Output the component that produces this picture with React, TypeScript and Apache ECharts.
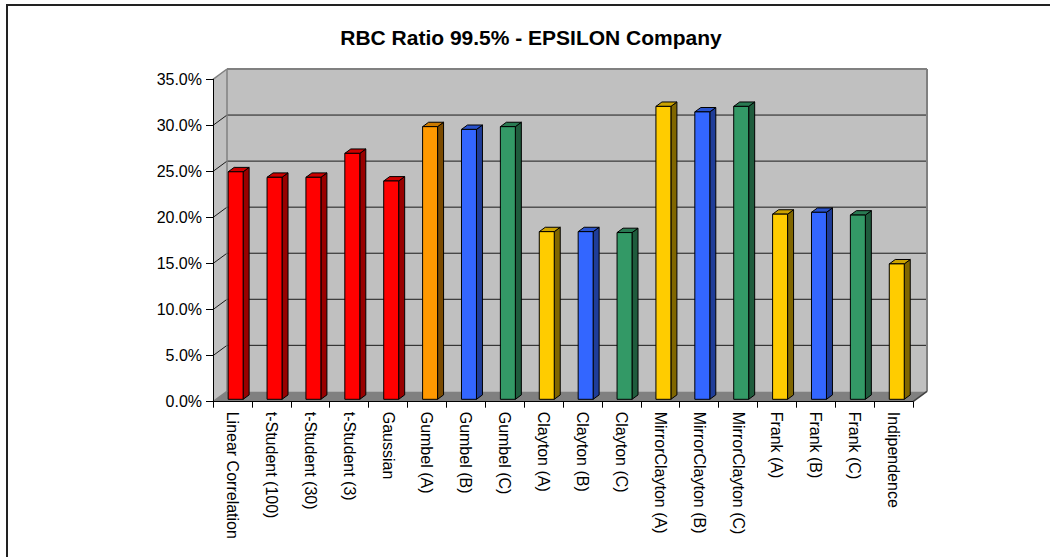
import React, { useEffect, useRef } from "react";
import * as echarts from "echarts";

// Copula models compared for the EPSILON company
const categories = [
  "Linear Correlation",
  "t-Student (100)",
  "t-Student (30)",
  "t-Student (3)",
  "Gaussian",
  "Gumbel (A)",
  "Gumbel (B)",
  "Gumbel (C)",
  "Clayton (A)",
  "Clayton (B)",
  "Clayton (C)",
  "MirrorClayton (A)",
  "MirrorClayton (B)",
  "MirrorClayton (C)",
  "Frank (A)",
  "Frank (B)",
  "Frank (C)",
  "Indipendence",
];

// RBC ratio at the 99.5% level, one value per model
const rbcRatio = [
  0.247, 0.241, 0.241, 0.267, 0.237, 0.296, 0.293, 0.296, 0.182, 0.182, 0.181,
  0.318, 0.312, 0.318, 0.201, 0.203, 0.2, 0.147,
];

// colour family of each bar
const barFamily = [
  "red", "red", "red", "red", "red", "orange", "blue", "green", "yellow",
  "blue", "green", "yellow", "blue", "green", "yellow", "blue", "green", "yellow",
];

const yTicks = [0, 0.05, 0.1, 0.15, 0.2, 0.25, 0.3, 0.35];

const palette: Record<string, { front: string; side: string; top: string }> = {
  red: { front: "#FF0000", side: "#990000", top: "#CC0000" },
  orange: { front: "#FF9900", side: "#7A4A00", top: "#CC7A00" },
  blue: { front: "#3366FF", side: "#1F3D99", top: "#2952CC" },
  green: { front: "#339966", side: "#1F5C3D", top: "#297A52" },
  yellow: { front: "#FFCC00", side: "#806600", top: "#CCA300" },
};

const FONT = "'Liberation Sans', Arial, Helvetica, sans-serif";

// depth of the plot box (front plane -> back wall)
const WALL_DX = 14;
const WALL_DY = -10.3;
// position of the bar front plane and depth of each bar
const BAR_OFF_DX = 3.2;
const BAR_OFF_DY = -2.4;
const BAR_DX = 6;
const BAR_DY = -4.4;

export default function App() {
  const ref = useRef<HTMLDivElement>(null);

  useEffect(() => {
    if (!ref.current) return;
    const chart = echarts.init(ref.current, null, { renderer: "svg" });
    const yMax = yTicks[yTicks.length - 1];
    const n = categories.length;

    const wallsRender = (_params: any, api: any) => {
      const band = api.size([1, 0])[0];
      const x0 = api.coord([0, 0])[0] - band / 2;
      const x1 = api.coord([n - 1, 0])[0] + band / 2;
      const yb = api.coord([0, 0])[1];
      const yt = api.coord([0, yMax])[1];
      const children: any[] = [];
      // back wall
      children.push({
        type: "rect",
        shape: { x: x0 + WALL_DX, y: yt + WALL_DY, width: x1 - x0, height: yb - yt },
        style: { fill: "#C0C0C0" },
      });
      // side wall
      children.push({
        type: "polygon",
        shape: {
          points: [
            [x0, yt],
            [x0 + WALL_DX, yt + WALL_DY],
            [x0 + WALL_DX, yb + WALL_DY],
            [x0, yb],
          ],
        },
        style: { fill: "#C0C0C0" },
      });
      // floor
      children.push({
        type: "polygon",
        shape: {
          points: [
            [x0, yb],
            [x0 + WALL_DX, yb + WALL_DY],
            [x1 + WALL_DX, yb + WALL_DY],
            [x1, yb],
          ],
        },
        style: { fill: "#808080" },
      });
      // gridlines on back and side walls
      yTicks.forEach((t) => {
        const y = api.coord([0, t])[1];
        const edge = t === 0 || t === yMax;
        if (t !== 0) {
          children.push({
            type: "line",
            shape: { x1: x0 + WALL_DX, y1: y + WALL_DY, x2: x1 + WALL_DX, y2: y + WALL_DY },
            style: { stroke: edge ? "#808080" : "#1A1A1A", lineWidth: edge ? 2 : 1 },
          });
        }
        children.push({
          type: "line",
          shape: { x1: x0, y1: y, x2: x0 + WALL_DX, y2: y + WALL_DY },
          style: { stroke: edge ? "#808080" : "#1A1A1A", lineWidth: edge ? 1.5 : 1 },
        });
      });
      // box edges
      children.push({
        type: "line",
        shape: { x1: x0 + WALL_DX, y1: yt + WALL_DY, x2: x0 + WALL_DX, y2: yb + WALL_DY },
        style: { stroke: "#808080", lineWidth: 1.5 },
      });
      children.push({
        type: "line",
        shape: { x1: x1 + WALL_DX, y1: yt + WALL_DY, x2: x1 + WALL_DX, y2: yb + WALL_DY },
        style: { stroke: "#808080", lineWidth: 2 },
      });
      children.push({
        type: "line",
        shape: { x1: x1, y1: yb, x2: x1 + WALL_DX, y2: yb + WALL_DY },
        style: { stroke: "#404040", lineWidth: 1.5 },
      });
      return { type: "group", children };
    };

    const barsRender = (params: any, api: any) => {
      const idx = api.value(0);
      const v = api.value(1);
      const base = api.coord([idx, 0]);
      const top = api.coord([idx, v]);
      const band = api.size([1, 0])[0];
      const w = band * 0.385;
      const fx = base[0] + BAR_OFF_DX - w / 2;
      const yB = base[1] + BAR_OFF_DY;
      const yT = top[1] + BAR_OFF_DY;
      const c = palette[barFamily[params.dataIndex]];
      const stroke = { stroke: "#000", lineWidth: 1, lineJoin: "round" };
      return {
        type: "group",
        children: [
          {
            type: "polygon",
            shape: {
              points: [
                [fx + w, yT],
                [fx + w + BAR_DX, yT + BAR_DY],
                [fx + w + BAR_DX, yB + BAR_DY],
                [fx + w, yB],
              ],
            },
            style: { fill: c.side, ...stroke },
          },
          {
            type: "polygon",
            shape: {
              points: [
                [fx, yT],
                [fx + BAR_DX, yT + BAR_DY],
                [fx + w + BAR_DX, yT + BAR_DY],
                [fx + w, yT],
              ],
            },
            style: { fill: c.top, ...stroke },
          },
          {
            type: "rect",
            shape: { x: fx, y: yT, width: w, height: yB - yT },
            style: { fill: c.front, ...stroke },
          },
        ],
      };
    };

    chart.setOption({
      animation: false,
      backgroundColor: "#FFFFFF",
      textStyle: { fontFamily: FONT },
      grid: { left: 213, top: 79.3, width: 700, height: 322.4, containLabel: false },
      xAxis: {
        type: "category",
        data: categories,
        boundaryGap: true,
        z: 5,
        axisLine: { show: true, lineStyle: { color: "#000", width: 1 } },
        axisTick: { show: true, length: 6, interval: 0, lineStyle: { color: "#000" } },
        axisLabel: {
          interval: 0,
          rotate: -90,
          margin: 10,
          fontSize: 16,
          color: "#000",
          fontFamily: FONT,
        },
        splitLine: { show: false },
      },
      yAxis: {
        type: "value",
        min: 0,
        max: yMax,
        interval: 0.05,
        z: 5,
        axisLine: { show: true, lineStyle: { color: "#000", width: 1 } },
        axisTick: { show: true, length: 7, lineStyle: { color: "#000" } },
        axisLabel: {
          formatter: (val: number) => (val * 100).toFixed(1) + "%",
          margin: 11,
          fontSize: 16,
          color: "#000",
          fontFamily: FONT,
        },
        splitLine: { show: false },
      },
      series: [
        {
          type: "custom",
          name: "walls",
          z: 1,
          silent: true,
          renderItem: wallsRender,
          data: [[0, 0]],
        },
        {
          type: "custom",
          name: "RBC Ratio",
          z: 3,
          renderItem: barsRender,
          encode: { x: 0, y: 1 },
          data: rbcRatio.map((v, i) => [i, v]),
        },
      ],
      graphic: [
        {
          type: "rect",
          shape: { x: 7, y: 5, width: 1100, height: 600 },
          style: { fill: "none", stroke: "#222", lineWidth: 2 },
          silent: true,
        },
        {
          type: "text",
          x: 531,
          y: 37,
          style: {
            text: "RBC Ratio 99.5% - EPSILON Company",
            fill: "#000",
            font: `bold 21px ${FONT}`,
            align: "center",
            verticalAlign: "middle",
          },
        },
      ],
    });

    return () => chart.dispose();
  }, []);

  return (
    <div
      ref={ref}
      style={{ position: "absolute", left: 0, top: 0, width: 1050, height: 557, background: "#fff" }}
    />
  );
}
